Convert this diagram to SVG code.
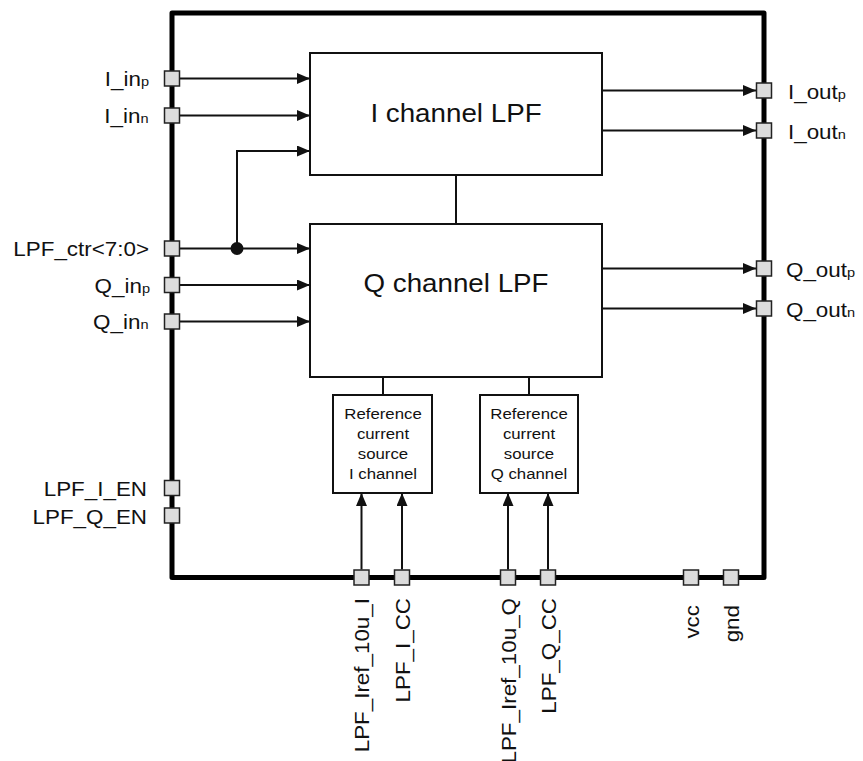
<svg xmlns="http://www.w3.org/2000/svg" width="863" height="761" viewBox="0 0 863 761">
<defs>
<style>
.lbl{font-family:"Liberation Sans",Arial,sans-serif;font-size:20px;fill:#111}
.sub{font-size:13px}
.title{font-family:"Liberation Sans",Arial,sans-serif;font-size:25px;fill:#111;text-anchor:middle}
.ref{font-family:"Liberation Sans",Arial,sans-serif;font-size:15px;fill:#111;text-anchor:middle}
.box{fill:#fff;stroke:#111;stroke-width:2}
.port{fill:#dcdcdc;stroke:#222;stroke-width:1.5}
.wire{fill:none;stroke:#111;stroke-width:2}
.arr{fill:none;stroke:#111;stroke-width:2;marker-end:url(#ah)}
</style>
<marker id="ah" markerUnits="userSpaceOnUse" markerWidth="13" markerHeight="11" refX="13" refY="5.5" orient="auto">
<path d="M0,0 L13,5.5 L0,11 z" fill="#111"/>
</marker>
</defs>
<rect width="863" height="761" fill="#fff"/>
<path id="chip-border" d="M172,13 H764 V577.5 H172 Z" fill="none" stroke="#000" stroke-width="5" stroke-linejoin="round"/>

<g id="connectors">
<line class="arr" x1="180" y1="78.5" x2="310" y2="78.5"/>
<line class="arr" x1="180" y1="115.5" x2="310" y2="115.5"/>
<polyline class="arr" points="237,248.5 237,151 310,151"/>
<line class="arr" x1="180" y1="248.5" x2="310" y2="248.5"/>
<line class="arr" x1="180" y1="285" x2="310" y2="285"/>
<line class="arr" x1="180" y1="321.5" x2="310" y2="321.5"/>
<circle cx="237" cy="248.5" r="6.5" fill="#111"/>
<line class="arr" x1="602" y1="90.5" x2="756" y2="90.5"/>
<line class="arr" x1="602" y1="130.5" x2="756" y2="130.5"/>
<line class="arr" x1="602" y1="268.5" x2="756" y2="268.5"/>
<line class="arr" x1="602" y1="308.5" x2="756" y2="308.5"/>
<line class="wire" x1="456" y1="175" x2="456" y2="224"/>
<line class="wire" x1="383" y1="377" x2="383" y2="395"/>
<line class="wire" x1="529" y1="377" x2="529" y2="395"/>
<line class="arr" x1="361.5" y1="569.5" x2="361.5" y2="493"/>
<line class="arr" x1="402" y1="569.5" x2="402" y2="493"/>
<line class="arr" x1="508" y1="569.5" x2="508" y2="493"/>
<line class="arr" x1="548" y1="569.5" x2="548" y2="493"/>
</g>

<g id="i-lpf">
<rect class="box" x="310" y="53" width="292" height="122"/>
<text class="title" transform="translate(456,122) scale(1.11,1)">I channel LPF</text>
</g>
<g id="q-lpf">
<rect class="box" x="310" y="224" width="292" height="153"/>
<text class="title" transform="translate(456,292) scale(1.11,1)">Q channel LPF</text>
</g>
<g id="ref-i">
<rect class="box" x="333" y="395" width="99" height="98"/>
<text class="ref" transform="translate(383,418.5) scale(1.12,1)">Reference</text>
<text class="ref" transform="translate(383,438.5) scale(1.12,1)">current</text>
<text class="ref" transform="translate(383,459) scale(1.12,1)">source</text>
<text class="ref" transform="translate(383,479) scale(1.12,1)">I channel</text>
</g>
<g id="ref-q">
<rect class="box" x="480" y="395" width="98" height="98"/>
<text class="ref" transform="translate(529,418.5) scale(1.12,1)">Reference</text>
<text class="ref" transform="translate(529,438.5) scale(1.12,1)">current</text>
<text class="ref" transform="translate(529,459) scale(1.12,1)">source</text>
<text class="ref" transform="translate(529,479) scale(1.12,1)">Q channel</text>
</g>

<g id="port-I_inp"><rect class="port" x="164.5" y="71" width="15" height="15"/>
<text class="lbl" text-anchor="end" transform="translate(149,86) scale(1.12,1)">I_in<tspan class="sub">p</tspan></text></g>
<g id="port-I_inn"><rect class="port" x="164.5" y="108" width="15" height="15"/>
<text class="lbl" text-anchor="end" transform="translate(148.5,123) scale(1.12,1)">I_in<tspan class="sub">n</tspan></text></g>
<g id="port-LPF_ctr"><rect class="port" x="164.5" y="241" width="15" height="15"/>
<text class="lbl" text-anchor="end" transform="translate(149,256) scale(1.12,1)">LPF_ctr&lt;7:0&gt;</text></g>
<g id="port-Q_inp"><rect class="port" x="164.5" y="277.5" width="15" height="15"/>
<text class="lbl" text-anchor="end" transform="translate(150,292.5) scale(1.12,1)">Q_in<tspan class="sub">p</tspan></text></g>
<g id="port-Q_inn"><rect class="port" x="164.5" y="314" width="15" height="15"/>
<text class="lbl" text-anchor="end" transform="translate(148.5,329) scale(1.12,1)">Q_in<tspan class="sub">n</tspan></text></g>
<g id="port-LPF_I_EN"><rect class="port" x="164.5" y="480.5" width="15" height="15"/>
<text class="lbl" text-anchor="end" transform="translate(147,496) scale(1.12,1)">LPF_I_EN</text></g>
<g id="port-LPF_Q_EN"><rect class="port" x="164.5" y="508" width="15" height="15"/>
<text class="lbl" text-anchor="end" transform="translate(147,523.5) scale(1.12,1)">LPF_Q_EN</text></g>

<g id="port-I_outp"><rect class="port" x="756.5" y="83" width="15" height="15"/>
<text class="lbl" transform="translate(788,98.5) scale(1.12,1)">I_out<tspan class="sub">p</tspan></text></g>
<g id="port-I_outn"><rect class="port" x="756.5" y="123" width="15" height="15"/>
<text class="lbl" transform="translate(788,138.5) scale(1.12,1)">I_out<tspan class="sub">n</tspan></text></g>
<g id="port-Q_outp"><rect class="port" x="756.5" y="261" width="15" height="15"/>
<text class="lbl" transform="translate(786,276.5) scale(1.12,1)">Q_out<tspan class="sub">p</tspan></text></g>
<g id="port-Q_outn"><rect class="port" x="756.5" y="301" width="15" height="15"/>
<text class="lbl" transform="translate(786,316.5) scale(1.12,1)">Q_out<tspan class="sub">n</tspan></text></g>

<g id="port-LPF_Iref_10u_I"><rect class="port" x="354" y="570" width="15" height="15"/>
<text class="lbl" text-anchor="end" transform="translate(369,598) rotate(-90) scale(1.12,1)">LPF_Iref_10u_I</text></g>
<g id="port-LPF_I_CC"><rect class="port" x="394.5" y="570" width="15" height="15"/>
<text class="lbl" text-anchor="end" transform="translate(409.5,598) rotate(-90) scale(1.12,1)">LPF_I_CC</text></g>
<g id="port-LPF_Iref_10u_Q"><rect class="port" x="500.5" y="570" width="15" height="15"/>
<text class="lbl" text-anchor="end" transform="translate(515.5,598) rotate(-90) scale(1.12,1)">LPF_Iref_10u_Q</text></g>
<g id="port-LPF_Q_CC"><rect class="port" x="540.5" y="570" width="15" height="15"/>
<text class="lbl" text-anchor="end" transform="translate(555.5,598) rotate(-90) scale(1.12,1)">LPF_Q_CC</text></g>
<g id="port-vcc"><rect class="port" x="683.5" y="570" width="15" height="15"/>
<text class="lbl" text-anchor="end" transform="translate(699,605) rotate(-90) scale(1.12,1)">vcc</text></g>
<g id="port-gnd"><rect class="port" x="723.5" y="570" width="15" height="15"/>
<text class="lbl" text-anchor="end" transform="translate(739,605) rotate(-90) scale(1.12,1)">gnd</text></g>
</svg>
